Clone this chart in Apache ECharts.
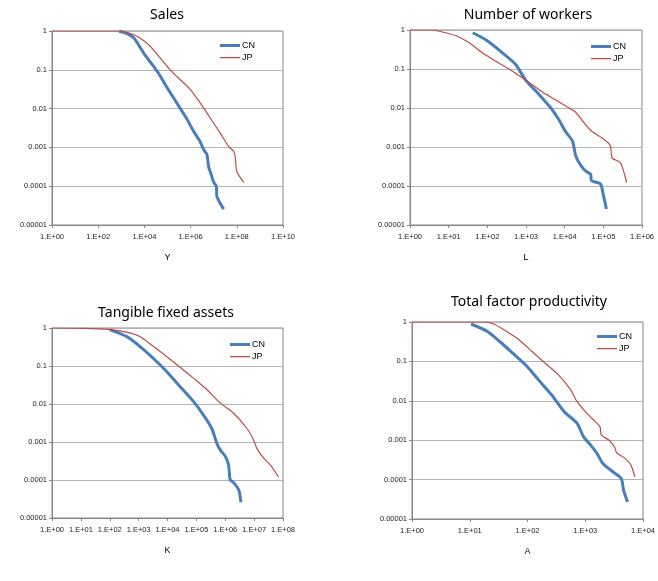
<!DOCTYPE html>
<html>
<head>
<meta charset="utf-8">
<script src="https://cdn.jsdelivr.net/npm/echarts@6/dist/echarts.min.js"></script>
<style>
  html, body { margin: 0; padding: 0; background: #fff; }
  #main { width: 658px; height: 581px; }
</style>
</head>
<body>
<div id="main"></div>
<script>
// Sales
var salesCnX = [800, 1.5e3, 3.5e3, 9.3e3, 2.5e4, 4.2e4, 9.5e4, 3.6e5, 6.9e5, 1.35e6, 2.6e6, 3.7e6, 5.1e6, 6.0e6, 7.6e6, 1.0e7, 1.3e7, 1.38e7, 2.7e7];
var salesCnY = [0.99, 0.89, 0.66, 0.27, 0.123, 0.079, 0.035, 0.01, 0.0054, 0.0026, 0.0014, 0.00087, 0.00065, 0.00032, 0.00021, 0.000126, 0.0001, 0.000054, 0.0000257];
var salesJpX = [1, 650, 1.5e3, 3.5e3, 8e3, 1.8e4, 1.3e5, 9.8e5, 2.6e6, 1.0e7, 1.95e7, 4.5e7, 7.2e7, 8.5e7, 1.0e8, 2.0e8];
var salesJpY = [1, 1, 0.94, 0.80, 0.60, 0.40, 0.1, 0.031, 0.014, 0.0042, 0.0023, 0.00105, 0.0008, 0.00059, 0.00024, 0.000126];

// Number of workers
var workCnX = [42, 91, 245, 540, 980, 2.2e3, 4.4e3, 7.1e3, 1.05e4, 1.6e4, 1.9e4, 2.3e4, 3.2e4, 3.8e4, 4.7e4, 4.9e4, 6.3e4, 8.5e4, 1.02e5, 1.2e5];
var workCnY = [0.85, 0.56, 0.26, 0.13, 0.052, 0.022, 0.01, 0.005, 0.0025, 0.0014, 0.00063, 0.00041, 0.00026, 0.00023, 0.0002, 0.000138, 0.000126, 0.000112, 0.000054, 0.0000257];
var workJpX = [1, 3.2, 6.9, 15.5, 34, 74, 166, 363, 980, 2.6e3, 5.9e3, 1.3e4, 1.9e4, 3.5e4, 5.1e4, 9.3e4, 1.5e5, 1.7e5, 2.75e5, 4.0e5];
var workJpY = [1, 1, 0.89, 0.71, 0.47, 0.26, 0.158, 0.1, 0.052, 0.026, 0.016, 0.01, 0.0079, 0.0037, 0.0025, 0.0017, 0.0011, 0.00052, 0.0004, 0.000123];

// Tangible fixed assets
var capCnX = [100, 380, 1.1e3, 3.2e3, 9.3e3, 2.7e4, 7.9e4, 1.74e5, 3.4e5, 5.1e5, 6.6e5, 1.0e6, 1.3e6, 1.48e6, 1.9e6, 2.9e6, 3.5e6];
var capCnY = [0.91, 0.60, 0.33, 0.16, 0.072, 0.029, 0.0117, 0.0052, 0.0023, 0.00093, 0.00063, 0.00042, 0.00025, 0.000102, 0.000087, 0.000056, 0.000026];
var capJpX = [1, 12, 100, 380, 1.1e3, 3.2e3, 9.3e3, 2.7e4, 7.9e4, 2.3e5, 6.6e5, 1.9e6, 5.6e6, 9.5e6, 1.23e7, 2.1e7, 3.6e7, 7.1e7];
var capJpY = [1, 0.98, 0.91, 0.78, 0.60, 0.33, 0.178, 0.093, 0.048, 0.024, 0.0107, 0.0058, 0.0023, 0.00115, 0.00069, 0.00038, 0.00025, 0.00012];

// Total factor productivity
var tfpCnX = [10.5, 20, 33, 56, 93, 155, 263, 437, 720, 930, 1.23e3, 1.6e3, 2.0e3, 3.0e3, 4.2e3, 4.6e3, 5.4e3];
var tfpCnY = [0.89, 0.58, 0.32, 0.16, 0.081, 0.034, 0.014, 0.0052, 0.0027, 0.00123, 0.00076, 0.00046, 0.00026, 0.000158, 0.000107, 0.000054, 0.000027];
var tfpJpX = [1, 17, 26, 43, 72, 120, 200, 340, 560, 720, 1.07e3, 1.48e3, 1.8e3, 1.9e3, 2.6e3, 3.2e3, 3.5e3, 4.8e3, 6.2e3, 7.2e3];
var tfpJpY = [1, 1, 0.89, 0.58, 0.35, 0.178, 0.091, 0.046, 0.019, 0.0095, 0.0048, 0.003, 0.0022, 0.00135, 0.001, 0.00068, 0.00048, 0.00035, 0.00023, 0.000117];

var titles = ['Sales', 'Number of workers', 'Tangible fixed assets', 'Total factor productivity'];
var xNames = ['Y', 'L', 'K', 'A'];
var xMax = [1e10, 1e6, 1e8, 1e4];

function pairs(xs, ys) {
  return xs.map(function (x, i) { return [x, ys[i]]; });
}

function expLabel(v) {
  var e = Math.round(Math.log10(v));
  return '1.E' + (e < 0 ? '-' : '+') + (Math.abs(e) < 10 ? '0' : '') + Math.abs(e);
}

function probLabel(v) {
  var e = Math.round(Math.log10(v));
  if (e === 0) return '1';
  return Math.pow(10, e).toFixed(-e);
}

var grids = [
  { left: 52, top: 31, width: 231, height: 194 },
  { left: 410, top: 30, width: 232, height: 195 },
  { left: 52, top: 328, width: 231, height: 190 },
  { left: 412, top: 322, width: 238, height: 197 }
];
var titlePos = [[167, 8], [528, 8], [166, 306], [529, 295]];
var legendPos = [[220, 41], [591, 42], [230, 340], [597, 332]];

// legend icons: a thick bar for CN, a thin line for JP
var thickIcon = 'path://M0,0h20v3h-20z';
var thinIcon = 'path://M0,0h0.01v0.01z M0,1h20v1.2h-20z M0,3h0.01v-0.01z';

var axisGray = '#868686';
var labelStyle = { color: '#222', fontSize: 7.5, fontFamily: 'Liberation Sans' };

var chart = echarts.init(document.getElementById('main'));
var option = {
  animation: false,
  title: [],
  legend: [],
  grid: [],
  xAxis: [],
  yAxis: [],
  series: []
};

var allData = [
  [pairs(salesCnX, salesCnY), pairs(salesJpX, salesJpY)],
  [pairs(workCnX, workCnY), pairs(workJpX, workJpY)],
  [pairs(capCnX, capCnY), pairs(capJpX, capJpY)],
  [pairs(tfpCnX, tfpCnY), pairs(tfpJpX, tfpJpY)]
];

for (var i = 0; i < 4; i++) {
  option.title.push({
    text: titles[i],
    left: titlePos[i][0],
    top: titlePos[i][1],
    textAlign: 'center',
    padding: 0,
    textStyle: { fontSize: 14, fontWeight: 'normal', color: '#000', fontFamily: 'Noto Sans' }
  });
  option.legend.push({
    data: [{ name: 'CN', icon: thickIcon }, { name: 'JP', icon: thinIcon }],
    orient: 'vertical',
    left: legendPos[i][0],
    top: legendPos[i][1],
    padding: 0,
    itemWidth: 20,
    itemHeight: 3,
    itemGap: 3,
    textStyle: { fontSize: 9, color: '#000', fontFamily: 'Liberation Sans', padding: [0, 0, 0, -3] }
  });
  option.grid.push({
    left: grids[i].left,
    top: grids[i].top,
    width: grids[i].width,
    height: grids[i].height,
    show: true,
    borderColor: axisGray,
    borderWidth: 1
  });
  option.xAxis.push({
    type: 'log',
    logBase: i === 0 ? 100 : 10,
    gridIndex: i,
    min: 1,
    max: xMax[i],
    name: xNames[i],
    nameLocation: 'middle',
    nameGap: 28,
    nameTextStyle: { fontSize: 9, color: '#000', fontFamily: 'Liberation Sans' },
    axisLine: { lineStyle: { color: axisGray } },
    axisTick: { show: true, length: 3, lineStyle: { color: axisGray } },
    minorTick: { show: false },
    splitLine: { show: false },
    axisLabel: Object.assign({ formatter: expLabel, margin: 8 }, labelStyle)
  });
  option.yAxis.push({
    type: 'log',
    gridIndex: i,
    min: 0.00001,
    max: 1,
    axisLine: { lineStyle: { color: axisGray } },
    axisTick: { show: true, length: 3, lineStyle: { color: axisGray } },
    splitLine: { show: true, lineStyle: { color: '#b3b3b3', width: 1 } },
    axisLabel: Object.assign({ formatter: probLabel, margin: 5 }, labelStyle)
  });
  option.series.push({
    name: 'CN',
    type: 'line',
    xAxisIndex: i,
    yAxisIndex: i,
    symbol: 'none',
    smooth: 0.25,
    lineStyle: { color: '#4a7ebb', width: 3 },
    itemStyle: { color: '#4a7ebb' },
    data: allData[i][0]
  });
  option.series.push({
    name: 'JP',
    type: 'line',
    xAxisIndex: i,
    yAxisIndex: i,
    symbol: 'none',
    smooth: 0.25,
    lineStyle: { color: '#be4b48', width: 1.2 },
    itemStyle: { color: '#be4b48' },
    data: allData[i][1]
  });
}

chart.setOption(option);
</script>
</body>
</html>
